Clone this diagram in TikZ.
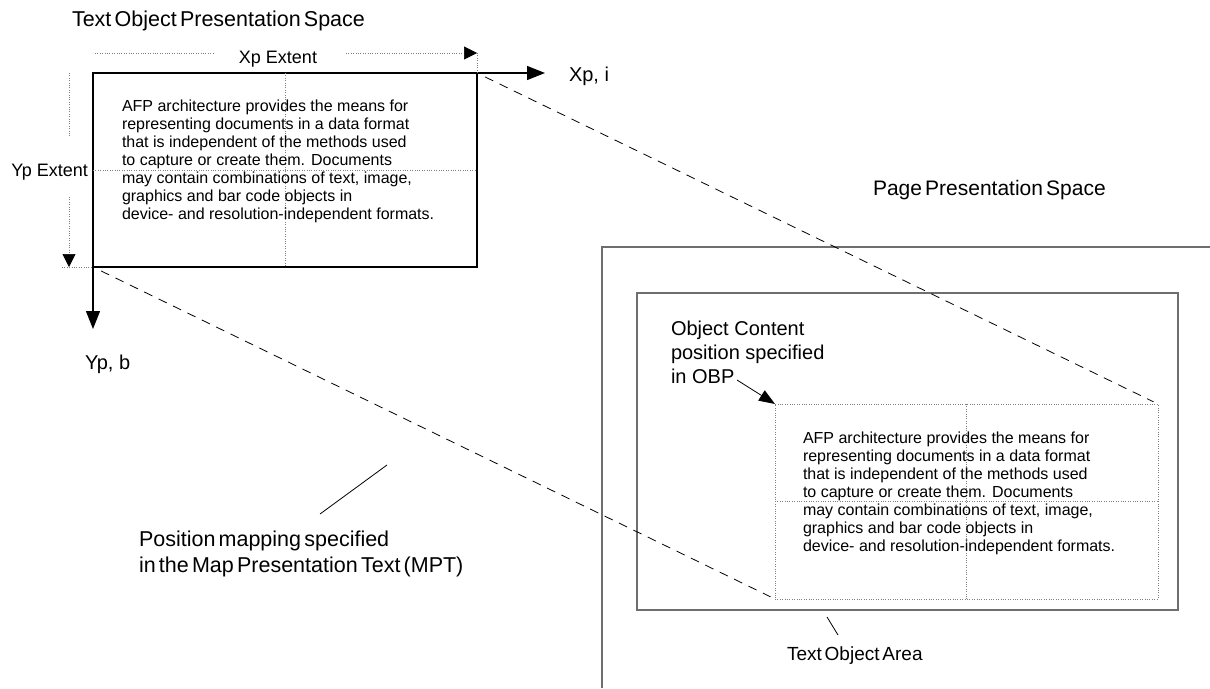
\documentclass[tikz,border=0pt]{standalone}
\usepackage{fontspec}
\setmainfont{Liberation Sans}
\usetikzlibrary{arrows.meta}
\newcommand\tightsp{\spaceskip=0.15em plus 0.05em\relax}
\newcommand\fs[2]{\fontsize{#1}{#2}\selectfont}
\begin{document}
\begin{tikzpicture}[x=1pt,y=-1pt,
  every node/.style={inner sep=0pt, outer sep=0pt},
  dotl/.style={draw=gray, line width=0.7pt, dash pattern=on 0.8pt off 1.6pt},
  dashl/.style={line width=0.8pt, dash pattern=on 9pt off 7pt, shorten <=9pt, shorten >=5pt},
  solidbox/.style={draw, line width=1.2pt, minimum width=384pt, minimum height=194pt},
  dotbox/.style={dotl, minimum width=383pt, minimum height=195pt},
  greybox/.style={draw={rgb,255:red,110;green,110;blue,110}, line width=1.5pt},
  bigtip/.style={-{Triangle[length=18pt,width=14pt]}, line width=1.2pt},
  smalltip/.style={-{Triangle[length=13pt,width=13pt,color=black,fill=black]}},
  thin/.style={line width=0.8pt},
  body/.style={anchor=north west, align=left, font=\fs{16}{18}},
]
\useasboundingbox (0,0) rectangle (1210,688);

% titles
\node[anchor=base west, font=\fs{21.5}{24}\tightsp] (t1) at (72,26) {Text Object Presentation Space};
\node[anchor=base west, font=\fs{21}{24}\tightsp] (t2) at (873,195) {Page Presentation Space};

% text object presentation space box
\node[solidbox] (box1) at (285,170) {};
\draw[dotl] (box1.north) -- (box1.south);
\draw[dotl] (box1.west) -- (box1.east);
\node[body] (txt1) at (122,100) {AFP architecture provides the means for\\
representing documents in a data format\\
that is independent of the methods used\\
to capture or create them. Documents\\
may contain combinations of text, image,\\
graphics and bar code objects in\\
device- and resolution-independent formats.};

% axes
\coordinate (xi) at (545,73);
\coordinate (yb) at (93,329);
\draw[bigtip] (box1.north east) -- (xi);
\draw[bigtip] (box1.south west) -- (yb);
\node[anchor=base west, font=\fs{20}{24}] (xlab) at (569,81) {Xp, i};
\node[anchor=base west, font=\fs{20}{24}] (ylab) at (85,369.5) {Yp, b};

% Xp extent
\node[anchor=base, font=\fs{18}{22}] (xext) at (278,63) {Xp Extent};
\coordinate (xe0) at (95,53);
\coordinate (xe1) at (213,53);
\coordinate (xe2) at (346,53);
\coordinate (xe3) at (477,53);
\draw[dotl] (xe0) -- (xe1);
\draw[dotl, smalltip] (xe2) -- (xe3);
\draw[dotl] (xe3) -- (box1.north east);

% Yp extent
\node[anchor=base east, font=\fs{18}{22}] (yext) at (88,176.5) {Yp Extent};
\coordinate (ye0) at (69,73);
\coordinate (ye1) at (69,137);
\coordinate (ye2) at (69,197);
\coordinate (ye3) at (69,267);
\coordinate (ye4) at (62,267);
\draw[dotl] (ye0) -- (ye1);
\draw[dotl, smalltip] (ye2) -- (ye3);
\draw[dotl] (ye4) -- (box1.south west);

% page presentation space
\draw[greybox] (1210,247) -| (602,688);
\node[greybox, minimum width=541pt, minimum height=317pt] (toa) at (907.5,451.5) {};

% text object area content
\node[dotbox] (box2) at (966.5,501.5) {};
\draw[dotl] (box2.north) -- (box2.south);
\draw[dotl] (box2.west) -- (box2.east);
\node[body] (txt2) at (803,432) {AFP architecture provides the means for\\
representing documents in a data format\\
that is independent of the methods used\\
to capture or create them. Documents\\
may contain combinations of text, image,\\
graphics and bar code objects in\\
device- and resolution-independent formats.};

% mapping dashed lines
\draw[dashl] (box1.north east) -- (box2.north east);
\draw[dashl] (box1.south west) -- (box2.south west);

% OBP label
\node[anchor=north west, align=left, font=\fs{20}{24}] (obp) at (671,320.7) {Object Content\\position specified\\in OBP};
\coordinate (obpend) at (737,380);
\draw[thin, -{Triangle[length=16pt,width=12pt]}] (obpend) -- (box2.north west);

% MPT label
\node[anchor=north west, align=left, font=\fs{21.5}{26}\tightsp] (mpt) at (139,531.2) {Position mapping specified\\in the Map Presentation Text (MPT)};
\coordinate (mpt0) at (320,514);
\coordinate (mpt1) at (387,465);
\draw[thin] (mpt0) -- (mpt1);

% Text Object Area label
\node[anchor=base west, font=\fs{19}{22}\tightsp] (toalab) at (787,660) {Text Object Area};
\coordinate (toa0) at (827,617);
\coordinate (toa1) at (838,635);
\draw[thin] (toa0) -- (toa1);
\end{tikzpicture}
\end{document}
